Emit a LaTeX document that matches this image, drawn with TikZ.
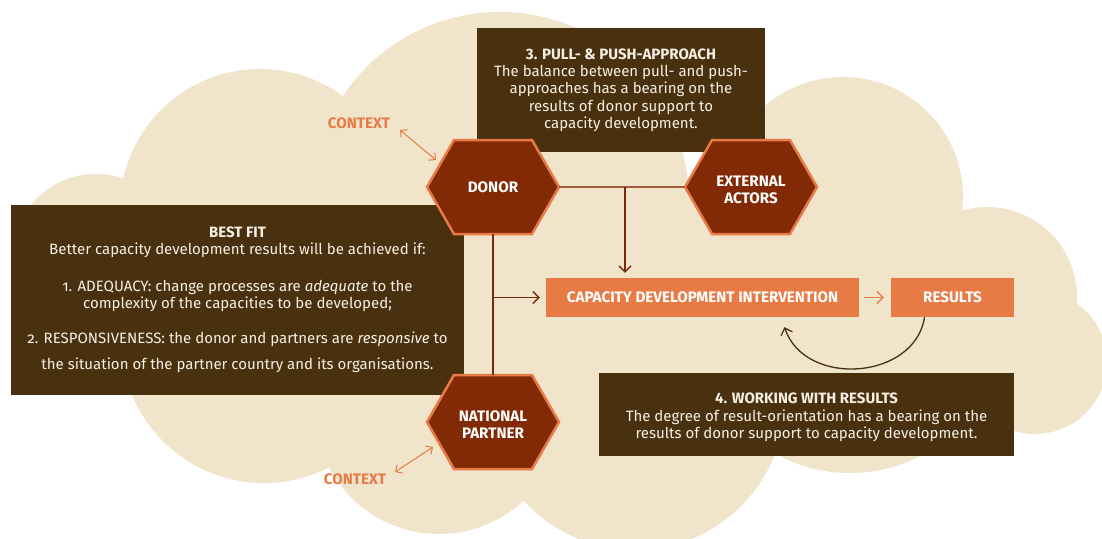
\documentclass[tikz,border=0pt]{standalone}
\usepackage{fontspec}
\setmainfont{Fira Sans}
\usetikzlibrary{arrows.meta}
\definecolor{cream}{RGB}{240,228,203}
\definecolor{dbrown}{RGB}{73,49,16}
\definecolor{hexred}{RGB}{130,41,5}
\definecolor{orng}{RGB}{232,123,69}
\definecolor{txtw}{RGB}{246,240,228}
\definecolor{linebr}{RGB}{163,92,60}
\definecolor{darkred}{RGB}{125,40,10}
\newcommand{\drawhex}[5]{%
  \filldraw[hexshape] (#2-66,#3) -- (#2-39,#3-47) -- (#2+39,#3-47) -- (#2+66,#3) -- (#2+39,#3+47) -- (#2-39,#3+47) -- cycle;
  \node[hextext] (#1) at (#2,#3) {};
  \node[hexlabel] (#1t) at (#2,#3+#5) {#4};
}
\newcommand{\onum}[1]{{\addfontfeatures{Numbers=OldStyle}#1}}
\tikzset{
  hexshape/.style={fill=hexred, draw=orng, line width=2.5pt, line join=miter},
  hextext/.style={minimum width=132pt, minimum height=94pt, inner sep=0pt},
  hexlabel/.style={inner sep=0pt, text=white, align=center, font=\fontsize{15.2}{17.5}\selectfont\bfseries},
  dbox/.style={fill=dbrown, inner sep=0pt, text=txtw, align=center, font=\fontsize{15}{17.3}\selectfont},
  dtext/.style={inner sep=0pt, text=txtw, align=center, font=\fontsize{15}{17.3}\selectfont},
  obox/.style={fill=orng, inner sep=0pt, text=white, font=\fontsize{15.2}{17}\selectfont\bfseries},
  ctx/.style={text=orng, font=\fontsize{15.2}{17}\selectfont\bfseries, inner sep=0pt},
  ctxarrow/.style={draw=orng, line width=1pt, {Straight Barb[length=5pt,width=10pt]}-{Straight Barb[length=5pt,width=10pt]}},
  barb/.style={-{Straight Barb[length=6pt,width=12pt]}},
}
\begin{document}
\begin{tikzpicture}[x=1pt,y=-1pt]
\useasboundingbox (0,0) rectangle (1102,538);
% cloud
\fill[cream] (96,258) circle[radius=84pt];
\fill[cream] (260,209) circle[radius=140pt];
\fill[cream] (500,201) circle[radius=189pt];
\fill[cream] (843,197) circle[radius=120pt];
\fill[cream] (987,297) circle[radius=90pt];
\fill[cream] (1035,362) circle[radius=72pt];
\fill[cream] (850,405) ellipse[x radius=105pt, y radius=68pt];
\fill[cream] (635,400) circle[radius=150pt];
\fill[cream] (439,410) circle[radius=124pt];
\fill[cream] (264,340) circle[radius=143pt];
\fill[cream] (96,258) -- (260,209) -- (500,201) -- (843,197) -- (987,297) -- (1035,362) -- (850,400) -- (635,400) -- (439,410) -- (264,340) -- cycle;
% boxes
\node[dbox, minimum width=288pt, minimum height=124pt] (pull) at (621,90)
  {\textbf{3. PULL- \& PUSH-APPROACH}\\The balance between pull- and push-\\approaches has a bearing on the\\results of donor support to\\capacity development.};
\node[dbox, minimum width=453pt, minimum height=190pt] (bestfit) at (237.5,300)
  {\textbf{BEST FIT}\\Better capacity development results will be achieved if:\\[19pt]
   \onum{1.} ADEQUACY: change processes are \emph{adequate} to the\\complexity of the capacities to be developed;\\[18pt]
   \onum{2.} RESPONSIVENESS: the donor and partners are \emph{responsive} to\\[9pt]
   the situation of the partner country and its organisations.};
\node[dbox, minimum width=415pt, minimum height=83pt] (work) at (806.5,414.5) {};
\node[dtext] (workt) at (806.5,417.5)
  {\textbf{4. WORKING WITH RESULTS}\\The degree of result-orientation has a bearing on the\\results of donor support to capacity development.};
\node[obox, minimum width=313pt, minimum height=39pt] (cap) at (702.5,297.5) {CAPACITY DEVELOPMENT INTERVENTION};
\node[obox, minimum width=123pt, minimum height=39pt] (res) at (952.5,297.5) {RESULTS};
% hexagons
\drawhex{donor}{493}{187}{DONOR}{0}
\drawhex{ext}{751}{187}{EXTERNAL\\ACTORS}{3}
\drawhex{natl}{493}{422}{NATIONAL\\PARTNER}{2.5}
% connectors
\draw[linebr, line width=2pt] (donor.east) -- (ext.west);
\coordinate (j1) at (625,187);
\draw[darkred, line width=1.3pt, barb, shorten >=5pt] (j1) -- (j1 |- cap.north);
\draw[darkred, line width=1.5pt] (donor.south) -- (natl.north);
\coordinate (j2) at (donor.south |- cap.west);
\draw[darkred, line width=1.3pt, barb, shorten >=6pt] (j2) -- (cap.west);
\draw[orng, line width=1.2pt, barb, shorten <=5pt, shorten >=7pt] (cap.east) -- (res.west);
\coordinate (rs) at ([xshift=-28pt]res.south);
\coordinate (ce) at ([xshift=82pt,yshift=-10pt]cap.south);
\draw[dbrown, line width=1.3pt, barb] (rs) .. controls (915,380) and (805,388) .. (ce);
% context
\node[ctx] (ctx1) at (359,123) {CONTEXT};
\node[ctx] (ctx2) at (355,479) {CONTEXT};
\coordinate (c1a) at (400,130);
\coordinate (c1b) at (436,160);
\coordinate (c2a) at (395,472);
\coordinate (c2b) at (433,447);
\draw[ctxarrow] (c1a) -- (c1b);
\draw[ctxarrow] (c2a) -- (c2b);
\end{tikzpicture}
\end{document}
